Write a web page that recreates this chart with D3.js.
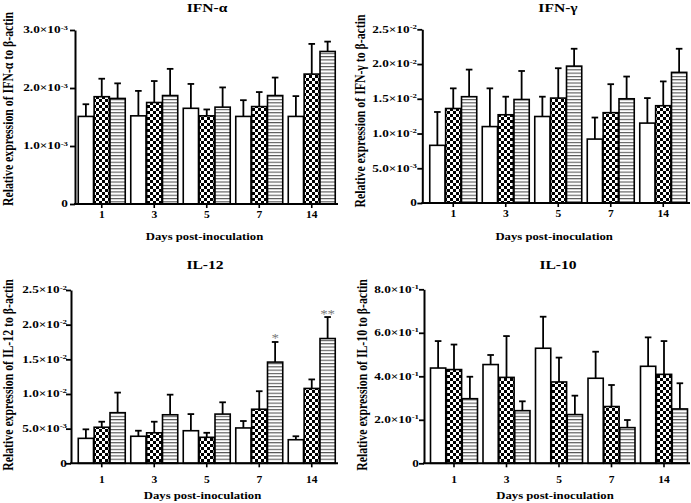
<!DOCTYPE html>
<html><head><meta charset="utf-8">
<script src="https://cdn.jsdelivr.net/npm/d3@7"></script>
<style>
body{margin:0;background:#fff}
svg{display:block}
text{font-family:"Liberation Serif","Times New Roman",serif;font-weight:bold;fill:#000}
</style>
</head><body>
<svg id="c" width="691" height="503"></svg>
<script>
// ---------- DATA ----------
const days = ["1", "3", "5", "7", "14"];
const seriesKeys = ["white", "checker", "stripe"];

// IFN-alpha (x10^-3): rows = series (white, checker, stripe), cols = days
const ifnaMeans = [[1.51, 1.52, 1.65, 1.51, 1.51], [1.85, 1.75, 1.52, 1.68, 2.24], [1.82, 1.87, 1.67, 1.87, 2.63]];
const ifnaSD    = [[0.21, 0.43, 0.42, 0.28, 0.35], [0.31, 0.37, 0.11, 0.25, 0.52], [0.26, 0.46, 0.34, 0.31, 0.17]];
const ifnaTicks = [0, 1, 2, 3];
const ifnaTickLabels = ["0", "1.0×10^-3", "2.0×10^-3", "3.0×10^-3"];

// IFN-gamma (x10^-2)
const ifngMeans = [[0.83, 1.10, 1.245, 0.92, 1.15], [1.36, 1.27, 1.51, 1.30, 1.40], [1.53, 1.49, 1.97, 1.50, 1.88]];
const ifngSD    = [[0.48, 0.55, 0.285, 0.31, 0.36], [0.29, 0.26, 0.43, 0.41, 0.35], [0.39, 0.41, 0.25, 0.32, 0.34]];
const ifngTicks = [0, 0.5, 1.0, 1.5, 2.0, 2.5];
const ifngTickLabels = ["0", "5.0×10^-3", "1.0×10^-2", "1.5×10^-2", "2.0×10^-2", "2.5×10^-2"];

// IL-12 (x10^-2)
const il12Means = [[0.36, 0.39, 0.47, 0.51, 0.34], [0.52, 0.44, 0.375, 0.78, 1.08], [0.73, 0.70, 0.71, 1.46, 1.80]];
const il12SD    = [[0.13, 0.08, 0.24, 0.10, 0.05], [0.08, 0.16, 0.065, 0.26, 0.13], [0.29, 0.29, 0.17, 0.29, 0.31]];
const il12Ticks = [0, 0.5, 1.0, 1.5, 2.0, 2.5];
const il12TickLabels = ["0", "5.0×10^-3", "1.0×10^-2", "1.5×10^-2", "2.0×10^-2", "2.5×10^-2"];
const il12Stars = [["7", 2, "*"], ["14", 2, "**"]];

// IL-10 (x10^-1)
const il10Means = [[4.38, 4.54, 5.29, 3.91, 4.46], [4.31, 3.95, 3.74, 2.61, 4.09], [2.97, 2.42, 2.24, 1.64, 2.50]];
const il10SD    = [[1.24, 0.44, 1.45, 1.22, 1.33], [1.15, 1.90, 1.12, 0.99, 1.53], [1.01, 0.43, 0.87, 0.35, 1.18]];
const il10Ticks = [0, 2, 4, 6, 8];
const il10TickLabels = ["0", "2.0×10^-1", "4.0×10^-1", "6.0×10^-1", "8.0×10^-1"];

const xAxisTitle = "Days post-inoculation";

// ---------- LAYOUT ----------
const panels = [
  {title: "IFN-α", ylab: "Relative expression of IFN-α to β-actin", means: ifnaMeans, sds: ifnaSD, ticks: ifnaTicks, tickLabels: ifnaTickLabels, stars: [],
   axisX: 75, r0: 75.5, zeroY: 204, topY: 30, xEnd: 338, titleX: 207, titleY: 12, ylabX: 13, ylabY: 109, tickLabDY: 13.5, xlabY: 240, labRight: 68},
  {title: "IFN-γ", ylab: "Relative expression of IFN-γ to β-actin", means: ifngMeans, sds: ifngSD, ticks: ifngTicks, tickLabels: ifngTickLabels, stars: [],
   axisX: 422.3, r0: 427, zeroY: 203, topY: 29.3, xEnd: 690, titleX: 558, titleY: 12, ylabX: 365, ylabY: 111, tickLabDY: 14, xlabY: 240, labRight: 417},
  {title: "IL-12", ylab: "Relative expression of IL-12 to β-actin", means: il12Means, sds: il12SD, ticks: il12Ticks, tickLabels: il12TickLabels, stars: il12Stars,
   axisX: 71, r0: 75.5, zeroY: 463.3, topY: 290, xEnd: 338, titleX: 205, titleY: 269, ylabX: 13, ylabY: 375, tickLabDY: 20, xlabY: 499, labRight: 67},
  {title: "IL-10", ylab: "Relative expression of IL-10 to β-actin", means: il10Means, sds: il10SD, ticks: il10Ticks, tickLabels: il10TickLabels, stars: [],
   axisX: 424, r0: 427.75, zeroY: 463.3, topY: 289.3, xEnd: 690, titleX: 558, titleY: 269, ylabX: 367, ylabY: 375, tickLabDY: 20, xlabY: 499, labRight: 419}
];
const step = 52.5;

const svg = d3.select("#c");
svg.append("rect").attr("width", 691).attr("height", 503).attr("fill", "#fff");

// patterns
const defs = svg.append("defs");
const chk = defs.append("pattern").attr("id", "chk").attr("patternUnits", "userSpaceOnUse").attr("width", 6).attr("height", 6);
chk.append("rect").attr("width", 6).attr("height", 6).attr("fill", "#fff");
chk.append("rect").attr("width", 3).attr("height", 3).attr("fill", "#000");
chk.append("rect").attr("x", 3).attr("y", 3).attr("width", 3).attr("height", 3).attr("fill", "#000");
const str = defs.append("pattern").attr("id", "str").attr("patternUnits", "userSpaceOnUse").attr("width", 6).attr("height", 3.3);
str.append("rect").attr("width", 6).attr("height", 3.3).attr("fill", "#fff");
str.append("rect").attr("y", 0).attr("width", 6).attr("height", 1.1).attr("fill", "#555");
const fills = {white: "#fff", checker: "url(#chk)", stripe: "url(#str)"};

function stext(g, x, y, s, size, sx, anchor) {
  return g.append("text")
    .attr("transform", `translate(${x},${y}) scale(${sx},1)`)
    .attr("text-anchor", anchor)
    .style("font-size", size + "px")
    .text(s);
}

panels.forEach(p => {
  const g = svg.append("g");
  const x0 = d3.scaleBand().domain(days).range([p.r0, p.r0 + step * days.length]).paddingInner(0.105).paddingOuter(0.0525);
  const x1 = d3.scaleBand().domain(seriesKeys).range([0, x0.bandwidth()]).paddingInner(0.04);
  const y = d3.scaleLinear().domain([0, d3.max(p.ticks)]).range([p.zeroY, p.topY]);

  // bars
  seriesKeys.forEach((k, si) => {
    days.forEach((d, di) => {
      const v = p.means[si][di];
      const sd = p.sds[si][di];
      const bx = x0(d) + x1(k);
      const cx = bx + x1.bandwidth() / 2;
      // error bar
      g.append("line").attr("x1", cx).attr("x2", cx).attr("y1", y(v)).attr("y2", y(v + sd))
        .attr("stroke", "#000").attr("stroke-width", 1.8);
      g.append("line").attr("x1", cx - 3.3).attr("x2", cx + 3.3).attr("y1", y(v + sd)).attr("y2", y(v + sd))
        .attr("stroke", "#000").attr("stroke-width", 1.8);
      g.append("rect").attr("x", bx).attr("y", y(v)).attr("width", x1.bandwidth()).attr("height", y(0) - y(v))
        .attr("fill", fills[k]).attr("stroke", "#000").attr("stroke-width", 1.6);
    });
  });

  // stars
  p.stars.forEach(([d, si, s]) => {
    const k = seriesKeys[si];
    const di = days.indexOf(d);
    const cx = x0(d) + x1(k) + x1.bandwidth() / 2;
    const top = y(p.means[si][di] + p.sds[si][di]);
    stext(g, cx, top + 0.5, s, 13, 1.15, "middle").style("fill", "#7a7a7a").style("font-weight", "normal");
  });

  // y axis
  const ya = g.append("g").attr("transform", `translate(${p.axisX},0)`)
    .call(d3.axisLeft(y).tickValues(p.ticks).tickSize(5).tickSizeOuter(0).tickFormat(""));
  ya.select(".domain").attr("stroke", "#000").attr("stroke-width", 2);
  ya.selectAll(".tick line").attr("stroke", "#000").attr("stroke-width", 1.8);

  // y tick labels
  p.ticks.forEach((t, i) => {
    const parts = p.tickLabels[i].split("^");
    const tx = g.append("text")
      .attr("transform", `translate(${p.labRight},${y(t) + 3.3}) scale(1.4,1)`)
      .attr("text-anchor", "end")
      .style("font-size", "9.5px");
    tx.append("tspan").text(parts[0]);
    if (parts[1]) tx.append("tspan").attr("dy", -3.8).style("font-size", "6.3px").text(parts[1]);
  });

  // x axis
  const xa = g.append("g").attr("transform", `translate(0,${p.zeroY})`)
    .call(d3.axisBottom(x0).tickSize(4).tickSizeOuter(0).tickFormat(""));
  xa.select(".domain").remove();
  xa.selectAll(".tick line").attr("stroke", "#000").attr("stroke-width", 1.6);
  g.append("line").attr("x1", p.axisX - 1).attr("x2", p.xEnd).attr("y1", p.zeroY).attr("y2", p.zeroY)
    .attr("stroke", "#000").attr("stroke-width", 2);
  days.forEach(d => {
    stext(g, x0(d) + x0.bandwidth() / 2, p.zeroY + p.tickLabDY, d, 10, 1.15, "middle");
  });

  // titles
  stext(g, p.titleX, p.titleY, p.title, 12, 1.3, "middle");
  stext(g, (p.axisX + p.xEnd) / 2 - 2, p.xlabY, xAxisTitle, 10, 1.27, "middle");

  // y label
  g.append("text")
    .attr("transform", `translate(${p.ylabX},${p.ylabY}) rotate(-90) scale(1,1.2)`)
    .attr("text-anchor", "middle")
    .style("font-size", "11.8px")
    .text(p.ylab);
});
</script>
</body></html>
